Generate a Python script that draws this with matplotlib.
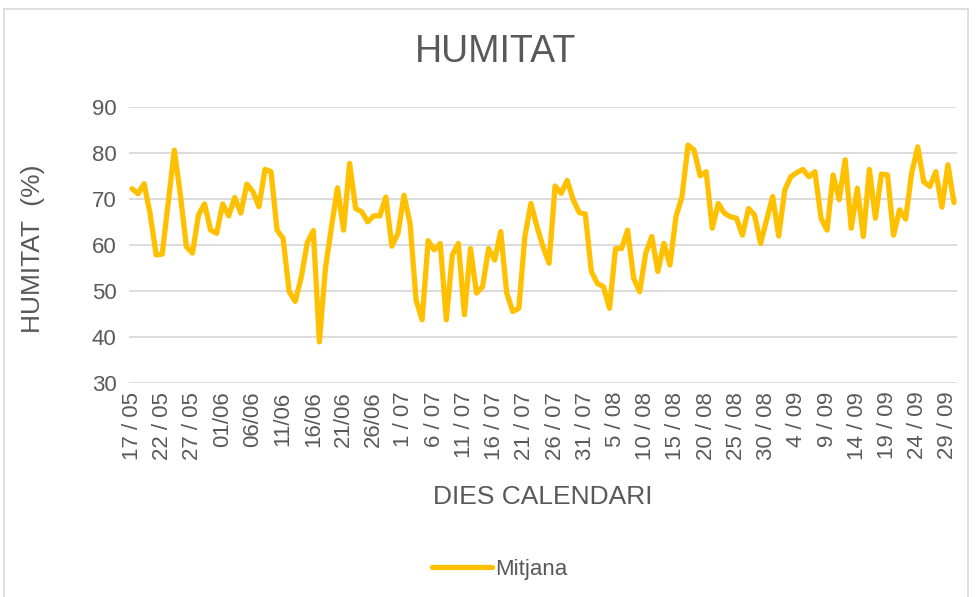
import numpy as np
import matplotlib.pyplot as plt
from matplotlib.lines import Line2D

plt.rcParams["font.family"] = ["Liberation Sans", "DejaVu Sans"]

# mitjana diaria d'humitat relativa, del 17/05 al 30/09
mitjana = [72.3, 71.2, 73.4, 66.8, 57.9, 58.1, 69.3, 80.7, 71.0, 59.7,
           58.3, 66.6, 69.0, 63.3, 62.6, 69.0, 66.4, 70.4, 67.0, 73.3,
           71.7, 68.4, 76.5, 76.0, 63.3, 61.5, 49.9, 47.8, 53.0, 60.6,
           63.2, 39.0, 55.0, 64.0, 72.5, 63.3, 77.8, 68.0, 67.3, 65.1,
           66.4, 66.4, 70.5, 59.8, 62.6, 70.9, 64.8, 48.1, 43.8, 61.0,
           59.0, 60.4, 43.8, 57.9, 60.4, 44.9, 59.3, 49.6, 51.0, 59.3,
           56.8, 63.0, 49.6, 45.6, 46.3, 61.9, 69.1, 64.1, 59.7, 56.1,
           72.9, 71.3, 74.1, 69.9, 67.1, 66.8, 54.3, 51.7, 51.0, 46.3,
           59.3, 59.3, 63.3, 52.8, 49.9, 58.3, 61.9, 54.3, 60.4, 55.7,
           66.2, 70.6, 81.8, 80.7, 75.1, 76.0, 63.7, 69.1, 67.0, 66.2,
           65.9, 62.2, 68.0, 66.6, 60.4, 65.5, 70.6, 62.0, 72.0, 74.9,
           75.8, 76.5, 74.9, 76.0, 65.9, 63.3, 75.3, 69.9, 78.6, 63.7,
           72.4, 61.9, 76.5, 65.9, 75.5, 75.3, 62.2, 67.7, 65.7, 75.7,
           81.4, 73.8, 72.8, 76.0, 68.3, 77.5, 69.3]

# etiquetes cada 5 dies
etiquetes = ['17 / 05', '22 / 05', '27 / 05', '01/06', '06/06', '11/06',
             '16/06', '21/06', '26/06', '1 / 07', '6 / 07', '11 / 07',
             '16 / 07', '21 / 07', '26 / 07', '31 / 07', '5 / 08', '10 / 08',
             '15 / 08', '20 / 08', '25 / 08', '30 / 08', '4 / 09', '9 / 09',
             '14 / 09', '19 / 09', '24 / 09', '29 / 09']

groc = '#FFC000'
gris = '#595959'
linia = '#D9D9D9'

dies = np.arange(len(mitjana))

fig = plt.figure(figsize=(9.76, 5.97), dpi=100)
ax = fig.add_axes([129/976, 1 - 383.3/597, 828/976, 276/597])

ax.plot(dies, mitjana, color=groc, linewidth=3.8,
        solid_joinstyle='round', solid_capstyle='round', label='Mitjana')

ax.set_xlim(-0.5, len(mitjana) - 0.5)
ax.set_ylim(30, 90)
ax.set_yticks(np.arange(30, 91, 10))
ax.set_xticks(dies[::5])
ax.set_xticklabels(etiquetes, rotation=90, fontsize=16, color=gris)
ax.tick_params(axis='y', labelsize=16, labelcolor=gris, length=0, pad=9)
ax.tick_params(axis='x', length=0, pad=6)

ax.grid(axis='y', color=linia, linewidth=1.3)
ax.set_axisbelow(True)
for s in ax.spines.values():
    s.set_visible(False)

fig.text(496/976, 1 - 52/597, 'HUMITAT', ha='center', va='center',
         fontsize=27, color=gris)
fig.text(543/976, 1 - 497/597, 'DIES CALENDARI', ha='center', va='center',
         fontsize=19, color=gris)
fig.text(33/976, 1 - 249/597, 'HUMITAT  (%)', ha='center', va='center',
         rotation=90, fontsize=19, color=gris)

fig.legend(handles=[Line2D([], [], color=groc, linewidth=3.8,
                           solid_capstyle='round')],
           labels=['Mitjana'], loc='center',
           bbox_to_anchor=(500/976, 1 - 569/597), frameon=False,
           fontsize=16, handlelength=2.7, handletextpad=0.15,
           labelcolor=gris)

# marc del grafic
W, H = 976, 597
fig.add_artist(Line2D([4/W, 4/W], [0, 1 - 9/H], color=linia, linewidth=1.2))
fig.add_artist(Line2D([4/W, 968/W], [1 - 9/H, 1 - 9/H], color=linia, linewidth=1.2))
fig.add_artist(Line2D([968/W, 968/W], [0, 1 - 9/H], color=linia, linewidth=1.2))

plt.savefig('out.png', dpi=100)
